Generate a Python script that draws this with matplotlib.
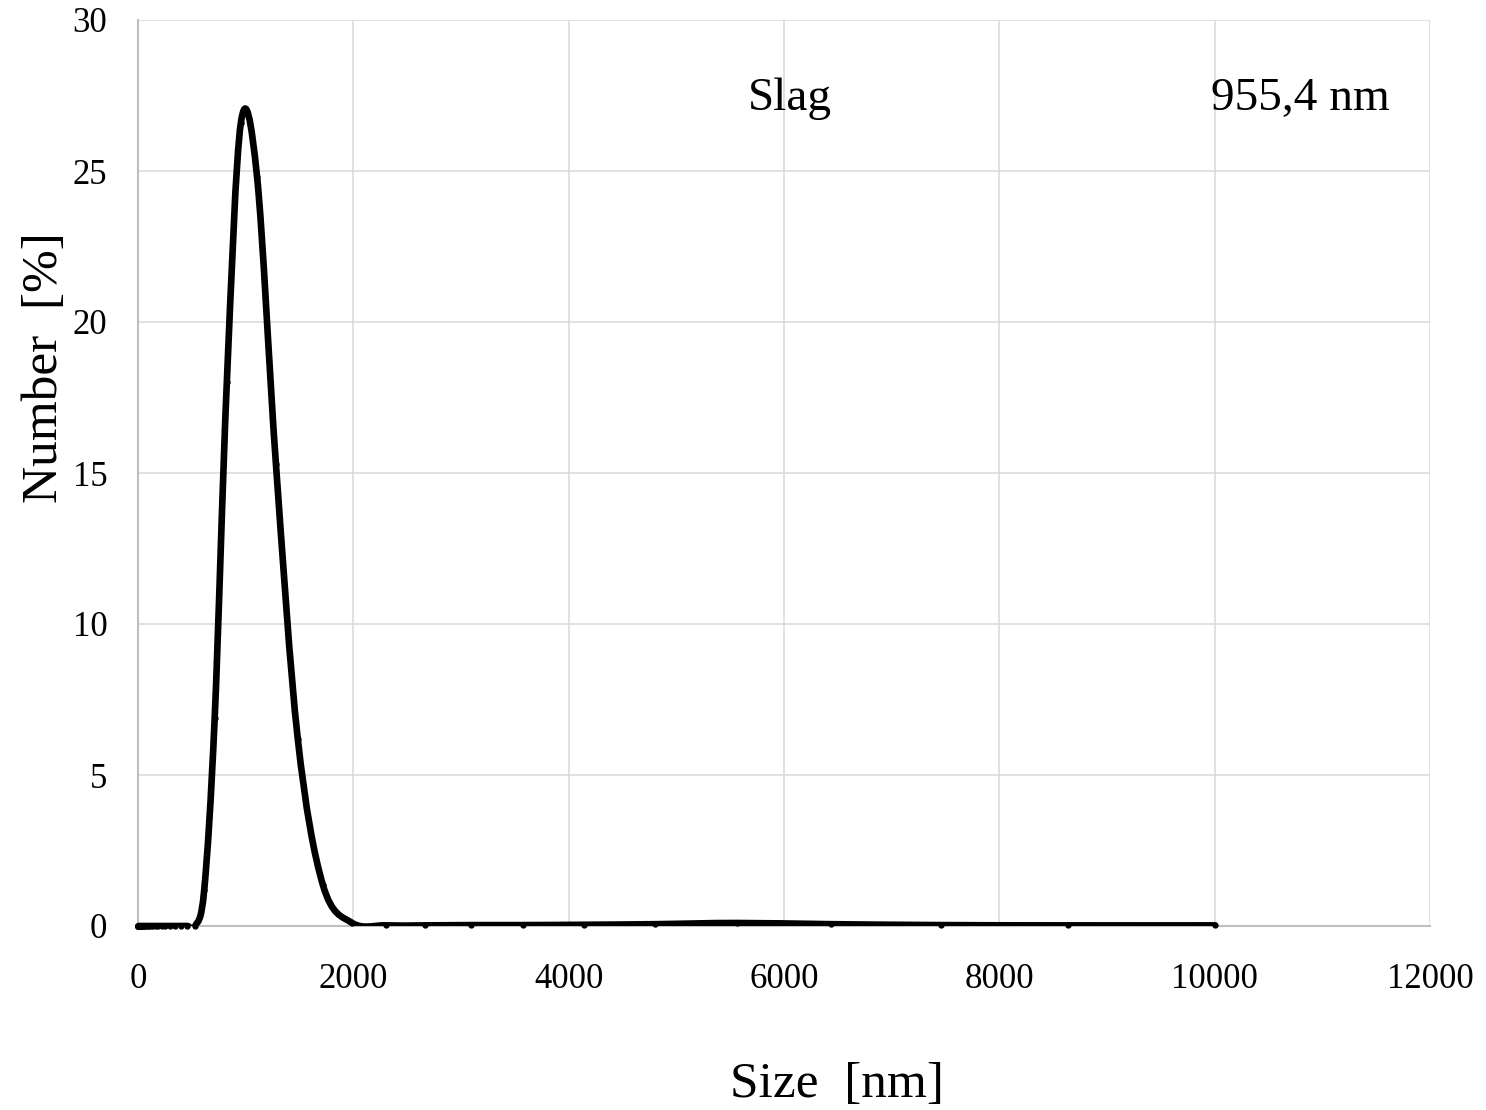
import numpy as np
import matplotlib
matplotlib.use("Agg")
import matplotlib.pyplot as plt
from matplotlib.path import Path
from matplotlib.patches import PathPatch

# Malvern size bins (nm) and number distribution (%)
sizes = [0.4, 0.4632, 0.5365, 0.6213, 0.7195, 0.8332, 0.9649, 1.117, 1.294, 1.499,
         1.736, 2.010, 2.328, 2.696, 3.122, 3.615, 4.187, 4.849, 5.615, 6.503,
         7.531, 8.721, 10.10, 11.70, 13.54, 15.69, 18.17, 21.04, 24.36, 28.21,
         32.67, 37.84, 43.82, 50.75, 58.77, 68.06, 78.82, 91.28, 105.7, 122.4,
         141.8, 164.2, 190.1, 220.2, 255.0, 295.3, 342.0, 396.1, 458.7, 531.2,
         615.1, 712.4, 825.0, 955.4, 1106, 1281, 1484, 1718, 1990, 2305,
         2669, 3091, 3580, 4145, 4801, 5560, 6439, 7456, 8635, 10000]
number = [0.0] * 50 + [1.2, 6.9, 18.0, 26.6, 24.8, 15.3, 6.2, 1.35, 0.1, 0.02,
                       0.02, 0.03, 0.03, 0.04, 0.06, 0.1, 0.06, 0.03, 0.02, 0.02]

x_ticks = [0, 2000, 4000, 6000, 8000, 10000, 12000]
y_ticks = [0, 5, 10, 15, 20, 25, 30]
sample_label = "Slag"
peak_label = "955,4 nm"

plt.rcParams['font.family'] = ['Liberation Serif', 'DejaVu Serif']

W, H = 1486, 1110
fig = plt.figure(figsize=(W / 100, H / 100), dpi=100)
ax = fig.add_axes([138 / W, 1 - 926 / H, (1430 - 138) / W, (926 - 20) / H])

ax.set_xlim(0, 12000)
ax.set_ylim(0, 30)
ax.set_xticks(x_ticks)
ax.set_yticks(y_ticks)
ax.tick_params(axis='both', length=0, labelsize=25)
ax.tick_params(axis='x', pad=27)
ax.tick_params(axis='y', pad=22)
ax.grid(True, color='#d9d9d9', linewidth=1.1)
ax.set_axisbelow(True)
for s in ['top', 'right']:
    ax.spines[s].set_visible(False)
for s in ['left', 'bottom']:
    ax.spines[s].set_color('#bfbfbf')
    ax.spines[s].set_linewidth(1.5)

# Smoothed line (Excel-like Catmull-Rom Bezier) through the data points
xs = np.array(sizes, dtype=float)
ys = np.array(number, dtype=float)
pts = np.column_stack([xs, ys])
n = len(pts)
verts = [pts[0]]
codes = [Path.MOVETO]
for i in range(n - 1):
    p0 = pts[i - 1] if i > 0 else pts[i]
    p1 = pts[i]
    p2 = pts[i + 1]
    p3 = pts[i + 2] if i + 2 < n else pts[i + 1]
    c1 = p1 + (p2 - p0) / 6.0
    c2 = p2 - (p3 - p1) / 6.0
    verts += [c1, c2, p2]
    codes += [Path.CURVE4] * 3
path = Path(np.array(verts), codes)
ax.add_patch(PathPatch(path, facecolor='none', edgecolor='black', lw=4.8,
                       capstyle='round', joinstyle='round', zorder=3))
ax.plot(xs, ys, linestyle='none', marker='o', markersize=3.5, color='black', zorder=4,
        clip_on=False)

fig.text(748 / W, 1 - 110 / H, sample_label, fontsize=34, ha='left', va='baseline')
fig.text(1211 / W, 1 - 110 / H, peak_label, fontsize=34, ha='left', va='baseline')
fig.text(45 / W, 1 - 368 / H, "Number  [%]", fontsize=37, rotation=90,
         ha='center', va='center')
fig.text(837 / W, 1 - 1097 / H, "Size  [nm]", fontsize=37, ha='center', va='baseline')

fig.savefig("out.png", dpi=100)
